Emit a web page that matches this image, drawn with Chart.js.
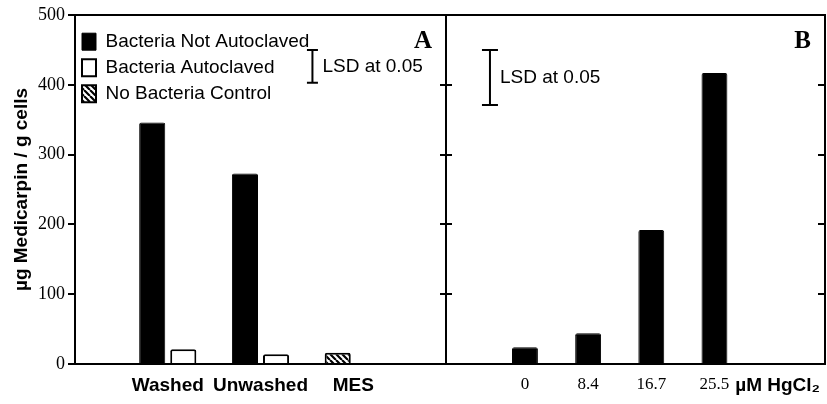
<!DOCTYPE html>
<html>
<head>
<meta charset="utf-8">
<script src="https://cdn.jsdelivr.net/npm/chart.js@4.4.1/dist/chart.umd.min.js"></script>
<style>
  html, body { margin: 0; padding: 0; background: #fff; }
  #wrap { position: relative; width: 827px; height: 404px; overflow: hidden; }
  #boxA { position: absolute; left: 0; top: 0; width: 456px; height: 404px; }
  #boxB { position: absolute; left: 440px; top: 0; width: 387px; height: 404px; }
</style>
</head>
<body>
<div id="wrap">
  <div id="boxA"><canvas id="chartA"></canvas></div>
  <div id="boxB"><canvas id="chartB"></canvas></div>
</div>
<script>
// panel A - washing treatments
const treatments = ['Washed', 'Unwashed', 'MES'];
const notAutoclaved = [346, 273, null];
const autoclaved = [21, 14, null];
const noBacteria = [null, null, 16];
const lsdA = [403, 450];

// panel B - HgCl2 doses
const hgDoses = ['0', '8.4', '16.7', '25.5'];
const hgValues = [24, 44, 192, 417];
const hgUnit = 'µM HgCl₂';
const lsdB = [371, 450];

const yTicks = [0, 100, 200, 300, 400, 500];

const SANS = "'Liberation Sans', Arial, 'DejaVu Sans', sans-serif";
const SERIF = "'Liberation Serif', 'Times New Roman', serif";

Chart.defaults.font.family = SANS;
Chart.defaults.color = '#000';

// diagonal hatch used for the control bar
function makeHatch() {
  const s = 6;
  const c = document.createElement('canvas');
  c.width = s; c.height = s;
  const g = c.getContext('2d');
  g.fillStyle = '#fff';
  g.fillRect(0, 0, s, s);
  g.strokeStyle = '#000';
  g.lineWidth = 2.2;
  g.beginPath();
  [-s, 0, s].forEach(k => { g.moveTo(k, 0); g.lineTo(k + s, s); });
  g.stroke();
  return g.createPattern(c, 'repeat');
}
const hatch = makeHatch();

// LSD bar and panel letter
const panelMarks = {
  id: 'panelMarks',
  afterDraw(chart, args, opts) {
    const { ctx, chartArea } = chart;
    const y = chart.scales.y;
    const x = chartArea.left + chartArea.width * opts.lsdAt;
    const top = y.getPixelForValue(opts.lsd[1]);
    const bot = y.getPixelForValue(opts.lsd[0]);
    const half = opts.cap / 2;
    ctx.save();
    ctx.strokeStyle = '#000';
    ctx.lineWidth = 2;
    ctx.beginPath();
    ctx.moveTo(x, top); ctx.lineTo(x, bot);
    ctx.moveTo(x - half, top); ctx.lineTo(x + half, top);
    ctx.moveTo(x - half, bot); ctx.lineTo(x + half, bot);
    ctx.stroke();
    ctx.fillStyle = '#000';
    ctx.font = '19px ' + SANS;
    ctx.textBaseline = 'middle';
    ctx.textAlign = 'left';
    ctx.fillText('LSD at 0.05', x + 10, (top + bot) / 2);
    ctx.font = 'bold 25px ' + SERIF;
    ctx.textAlign = 'right';
    ctx.fillText(opts.letter, chartArea.right - 14, chartArea.top + 27);
    ctx.restore();
  }
};

const axisLine = { display: true, color: '#000', width: 2 };
const yRange = { min: yTicks[0], max: yTicks[yTicks.length - 1] };
const yStep = yTicks[1] - yTicks[0];

function pad(arr) { return [null, ...arr, null]; }

new Chart(document.getElementById('chartA'), {
  type: 'bar',
  data: {
    labels: ['', ...treatments, ''],
    datasets: [
      { label: 'Bacteria Not Autoclaved', data: pad(notAutoclaved), backgroundColor: '#000', borderColor: '#000', borderWidth: 1, stack: 'first' },
      { label: 'Bacteria Autoclaved', data: pad(autoclaved), backgroundColor: '#fff', borderColor: '#000', borderWidth: 2, stack: 'second' },
      { label: 'No Bacteria Control', data: pad(noBacteria), backgroundColor: hatch, borderColor: '#000', borderWidth: 2, stack: 'first' }
    ]
  },
  options: {
    responsive: true,
    maintainAspectRatio: false,
    animation: false,
    layout: { padding: { top: 15, left: 0, right: 0, bottom: 0 } },
    datasets: { bar: { categoryPercentage: 0.67, barPercentage: 0.84, borderRadius: 2 } },
    plugins: {
      tooltip: { enabled: false },
      legend: {
        position: 'chartArea',
        align: 'start',
        // legend inside the plot starts at the canvas top, the title pushes it down
        title: { display: true, text: '', font: { size: 1 }, padding: { top: 24, bottom: 0 } },
        labels: { boxWidth: 14, boxHeight: 17, padding: 7, color: '#000', font: { size: 19 } }
      },
      panelMarks: { letter: 'A', lsd: lsdA, lsdAt: 0.64, cap: 11 }
    },
    scales: {
      x: {
        type: 'category',
        offset: false,
        grid: { display: false, drawTicks: false },
        border: axisLine,
        ticks: { autoSkip: false, maxRotation: 0, padding: 10, font: { weight: 'bold', size: 19 } },
        afterFit: s => { s.height = 40; }
      },
      xt: {
        type: 'category',
        position: 'top',
        grid: { display: false, drawTicks: false },
        border: axisLine,
        ticks: { display: false }
      },
      y: {
        ...yRange,
        ticks: { stepSize: yStep, padding: 3, font: { family: SERIF, size: 18 } },
        grid: { drawOnChartArea: false, tickLength: 7, color: '#000', lineWidth: 2 },
        border: axisLine,
        title: { display: true, text: 'µg Medicarpin / g cells', font: { weight: 'bold', size: 19 }, padding: { top: 10, bottom: 0 } },
        afterFit: s => { s.width = 75; }
      },
      yr: {
        position: 'right',
        ...yRange,
        ticks: { display: false, stepSize: yStep },
        grid: { drawOnChartArea: false, tickLength: 6, color: '#000', lineWidth: 2 },
        border: axisLine
      }
    }
  },
  plugins: [panelMarks]
});

// panel B slots: two blanks, dose/blank pairs, unit label, blank
const slotLabels = ['', ''];
const slotValues = [null, null];
hgDoses.forEach((d, i) => {
  slotLabels.push(d, '');
  slotValues.push(hgValues[i], null);
});
slotLabels.push(hgUnit, '');
slotValues.push(null, null);

new Chart(document.getElementById('chartB'), {
  type: 'bar',
  data: {
    labels: slotLabels,
    datasets: [
      { label: 'Bacteria Not Autoclaved', data: slotValues, backgroundColor: '#000', borderColor: '#000', borderWidth: 1 }
    ]
  },
  options: {
    responsive: true,
    maintainAspectRatio: false,
    animation: false,
    layout: { padding: { top: 15, left: 0, right: 2, bottom: 0 } },
    datasets: { bar: { categoryPercentage: 1, barPercentage: 0.82, borderRadius: 2 } },
    plugins: {
      tooltip: { enabled: false },
      legend: { display: false },
      panelMarks: { letter: 'B', lsd: lsdB, lsdAt: 0.116, cap: 16 }
    },
    scales: {
      x: {
        type: 'category',
        grid: { display: false, drawTicks: false },
        border: axisLine,
        ticks: {
          autoSkip: false,
          maxRotation: 0,
          padding: 10,
          font: c => slotLabels[c.index] === hgUnit
            ? { family: SANS, weight: 'bold', size: 19 }
            : { family: SERIF, size: 17 }
        },
        afterFit: s => { s.height = 40; }
      },
      xt: {
        type: 'category',
        position: 'top',
        grid: { display: false, drawTicks: false },
        border: axisLine,
        ticks: { display: false }
      },
      y: {
        ...yRange,
        ticks: { display: false, stepSize: yStep },
        grid: { drawOnChartArea: false, tickLength: 6, color: '#000', lineWidth: 2 },
        border: axisLine
      },
      yr: {
        position: 'right',
        ...yRange,
        ticks: { display: false, stepSize: yStep },
        grid: { drawOnChartArea: false, tickLength: -7, color: '#000', lineWidth: 2 },
        border: axisLine,
        afterFit: s => { s.width = 0; }
      }
    }
  },
  plugins: [panelMarks]
});
</script>
</body>
</html>
